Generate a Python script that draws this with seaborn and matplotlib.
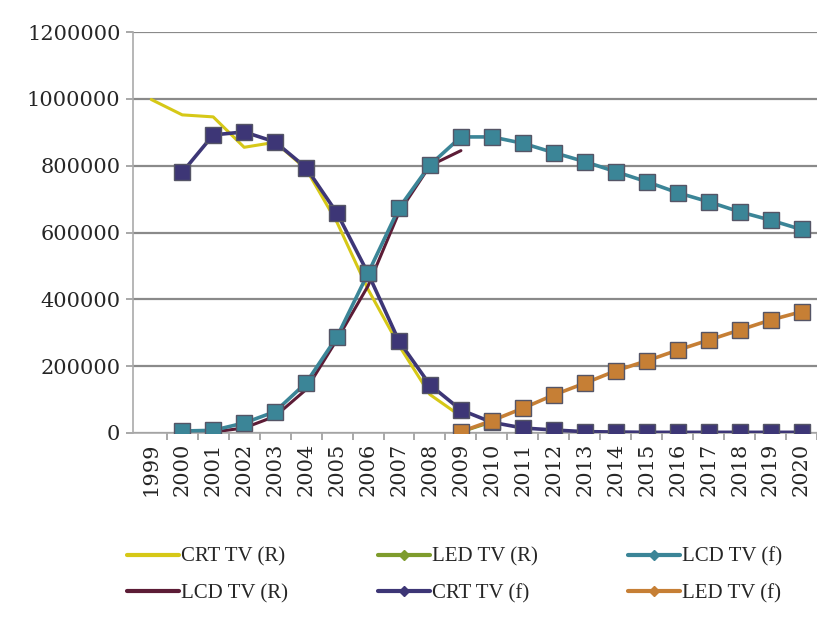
import numpy as np
import pandas as pd
import matplotlib
matplotlib.use("Agg")
import matplotlib.pyplot as plt
import seaborn as sns

# Chart values
years = list(range(1999, 2021))

crt_r_years = list(range(1999, 2010))
crt_r = [998000, 952000, 946000, 855000, 870000, 790000, 630000, 430000, 262000, 115000, 50000]

lcd_r_years = list(range(2000, 2010))
lcd_r = [0, 3000, 15000, 50000, 130000, 280000, 440000, 660000, 800000, 845000]

led_r_years = [2009, 2010]
led_r = [3000, 33000]

crt_f_years = list(range(2000, 2021))
crt_f = [780000, 892000, 901000, 871000, 794000, 658000, 478000, 275000, 144000, 69000,
         32000, 15000, 9000, 4000, 3000, 2000, 2000, 2000, 2000, 2000, 2000]

lcd_f_years = list(range(2000, 2021))
lcd_f = [6000, 8000, 30000, 64000, 150000, 288000, 478000, 673000, 802000, 886000,
         886000, 867000, 839000, 812000, 782000, 752000, 719000, 692000, 662000, 637000, 609000]

led_f_years = list(range(2009, 2021))
led_f = [4000, 37000, 74000, 114000, 149000, 186000, 216000, 248000, 278000, 308000, 338000, 363000]


def make_frame(xs, ys, name):
    return pd.DataFrame({"year": xs, "units": ys, "series": name})


def main():
    sns.set_theme(style="white")
    plt.rcParams["font.family"] = ["Liberation Serif", "DejaVu Serif"]

    fig = plt.figure(figsize=(8.17, 6.22), dpi=100)
    ax = fig.add_axes([133 / 817, 1 - 433 / 622, 1 - 133 / 817, (433 - 32) / 622])

    # horizontal gridlines
    ax.set_ylim(0, 1200000)
    ax.set_yticks(np.arange(0, 1200001, 200000))
    ax.yaxis.grid(True, color="#8a8a8a", linewidth=1.6)
    ax.set_axisbelow(True)

    series = [
        (make_frame(crt_r_years, crt_r, "CRT TV (R)"), "#d6c817", None, 2.2, 2),
        (make_frame(lcd_r_years, lcd_r, "LCD TV (R)"), "#5c1c36", None, 2.2, 2),
        (make_frame(led_r_years, led_r, "LED TV (R)"), "#7e9c2c", "D", 2.2, 2),
        (make_frame(crt_f_years, crt_f, "CRT TV (f)"), "#3d3676", "s", 2.6, 4),
        (make_frame(lcd_f_years, lcd_f, "LCD TV (f)"), "#3b8597", "s", 2.6, 5),
        (make_frame(led_f_years, led_f, "LED TV (f)"), "#c67f35", "s", 2.6, 6),
    ]
    for df, color, marker, lw, z in series:
        sns.lineplot(data=df, x="year", y="units", ax=ax, color=color, linewidth=lw,
                     marker=marker, markersize=11 if marker == "s" else 0,
                     markeredgecolor="#555566" if marker else None, markeredgewidth=1.0,
                     label=df["series"].iloc[0], zorder=z, legend=False)

    tick_font = {"family": "DejaVu Serif", "size": 15}
    ax.set_xlim(1999 - 0.59, 1999 + 21.19)
    ax.set_xticks(years)
    ax.set_xticklabels([str(y) for y in years], rotation=90, fontdict=tick_font)
    ax.set_xticks(np.arange(1999.5, 2021, 1), minor=True)
    ax.tick_params(axis="x", which="major", length=0, pad=7)
    ax.tick_params(axis="x", which="minor", length=5, color="#999999", width=1.2, bottom=True)
    ax.tick_params(axis="y", length=5, color="#999999", width=1.2, left=True, pad=4)
    ax.set_yticklabels([str(v) for v in range(0, 1200001, 200000)], fontdict=tick_font)
    ax.set_xlabel("")
    ax.set_ylabel("")

    for side in ["top", "right"]:
        ax.spines[side].set_visible(False)
    ax.spines["left"].set_color("#aaaaaa")
    ax.spines["bottom"].set_color("#aaaaaa")
    ax.spines["left"].set_linewidth(1.2)
    ax.spines["bottom"].set_linewidth(1.2)

    # legend: 3 columns x 2 rows, small markers
    handles = ax.get_lines()[:6]
    leg_handles = []
    for h in handles:
        m = h.get_marker()
        leg_handles.append(plt.Line2D([], [], color=h.get_color(), linewidth=3,
                                      marker="D" if m not in (None, "None", "") else None,
                                      markersize=5))
    labels = [h.get_label() for h in handles]
    fig.legend(leg_handles, labels, ncol=3, loc="upper left",
               bbox_to_anchor=(121 / 817, 1 - 541 / 622), frameon=False,
               fontsize=15, handlelength=2.5, handletextpad=0.1,
               columnspacing=4.3, labelspacing=0.83, borderaxespad=0, borderpad=0.3)

    fig.savefig("out.png", dpi=100)


if __name__ == "__main__":
    main()
